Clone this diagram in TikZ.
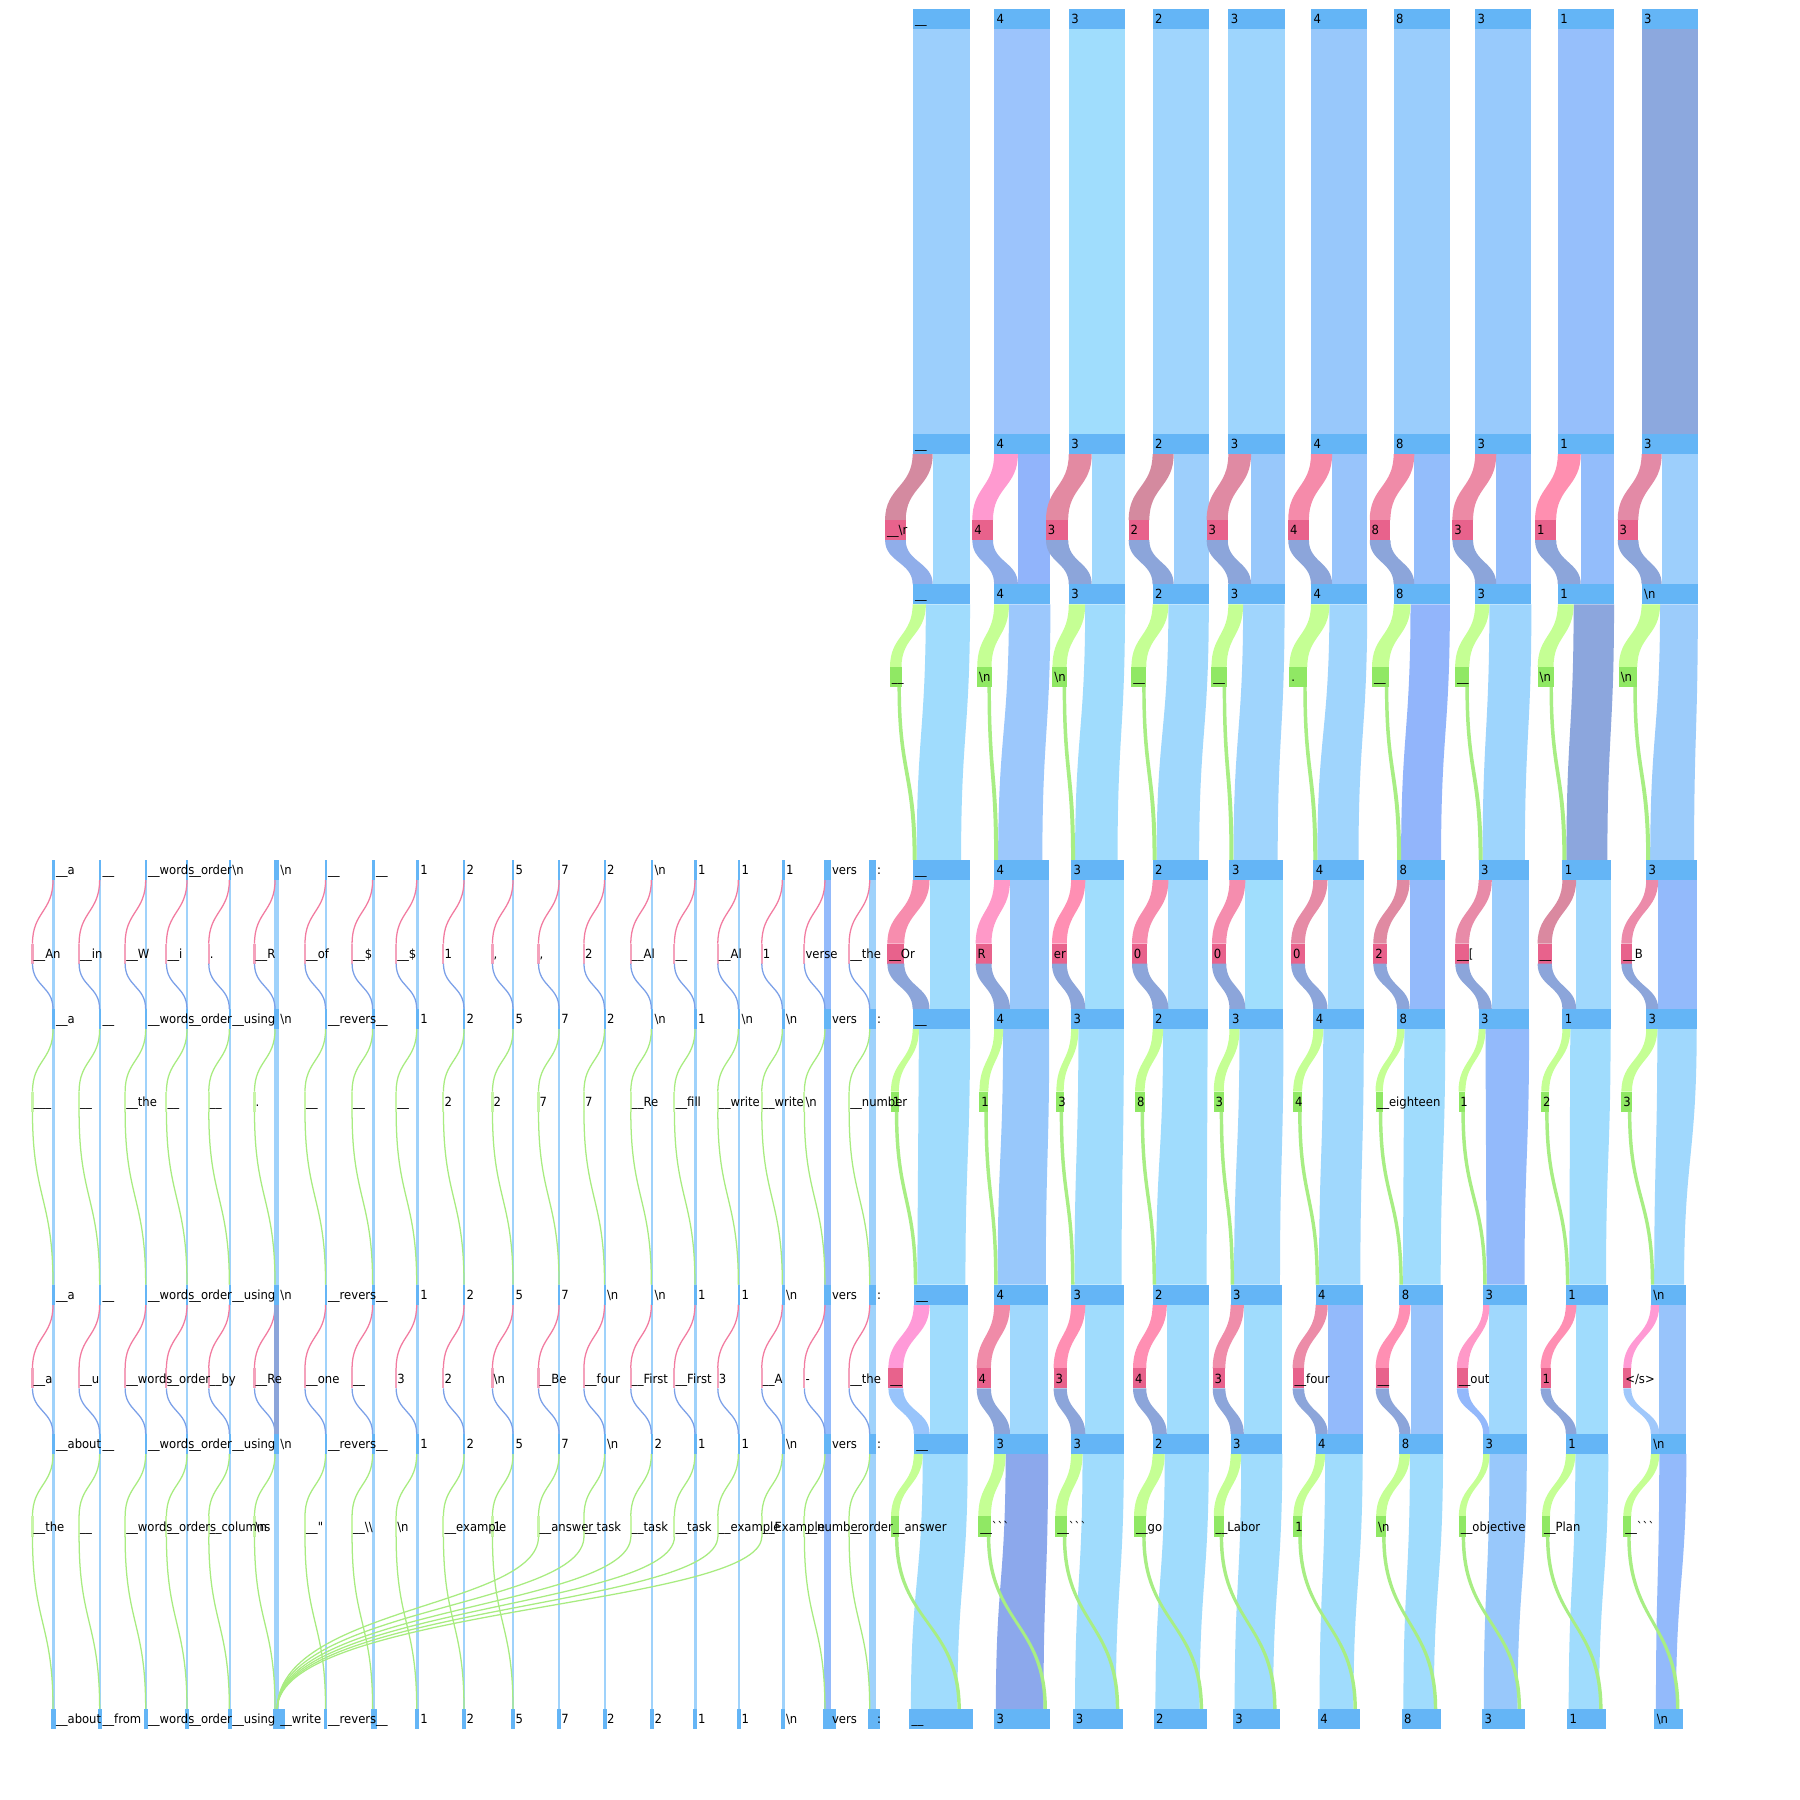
\documentclass[tikz,border=0pt]{standalone}
\usepackage{fontspec}
\newfontfamily\labfont{DejaVu Sans}[FakeStretch=0.92]
\newcommand\U{\_\_}
\newcommand\N{\textbackslash n}
\newcommand\BT{\char"60\relax}
\definecolor{hb}{HTML}{64B5F6}
\definecolor{pk}{HTML}{E8628C}
\definecolor{gbx}{HTML}{90E864}
\definecolor{gband}{HTML}{C5FF94}
\definecolor{gline}{HTML}{A8EE84}
\definecolor{lres}{HTML}{9FD2FB}
\definecolor{lres2}{HTML}{93BAFB}
\definecolor{lres3}{HTML}{8CA5DA}
\definecolor{lpink}{HTML}{F27BA0}
\definecolor{lpbox}{HTML}{F4A2BC}
\definecolor{lblue}{HTML}{7BA0E8}
\definecolor{lgreen}{HTML}{A8EC80}
\definecolor{lgbox}{HTML}{C8F5A8}
\def\xAL{{795,866,931,1004,1070,1142,1214,1285,1357,1430}}
\def\xAR{{845,915,980,1053,1119,1191,1263,1334,1406,1479}}
\def\xBL{{795,866,933,1004,1071,1144,1217,1288,1361,1434}}
\def\xBR{{845,914,979,1052,1118,1188,1259,1332,1403,1478}}
\def\xCL{{796,866,933,1004,1072,1146,1219,1292,1364,1438}}
\def\xCR{{843,913,979,1053,1117,1187,1257,1330,1401,1469}}
\def\xDL{{792,866,935,1005,1074,1148,1221,1291,1365,1441}}
\def\xDR{{848,915,978,1051,1115,1185,1255,1328,1399,1466}}
\def\xLX{{45.6,86.2,126.3,162.3,199.2,239,283,324,362.4,403.6,446.3,486.4,526,566.8,604.8,642.6,680.9,718,757}}
\def\xLW{{2,2,1.5,1.5,2,4,1.6,2.4,2.6,1.7,1.7,1.5,1.6,2.2,2.1,2.3,2.6,5.6,5.8}}
\def\xLB{{4,3.5,3.5,3.5,3.5,10,3,5,4,3.5,3.5,3.5,3.5,3.5,3.5,3.5,3.5,11,11}}
\def\pass{1}
% filled ribbon: colour, a1, a2, y1, b1, b2, y2
\newcommand\band[7]{%
  \pgfmathsetmacro\ymid{(#4+#7)/2}%
  \fill[#1] (#2,#4) .. controls (#2,\ymid) and (#5,\ymid) .. (#5,#7) -- (#6,#7) .. controls (#6,\ymid) and (#3,\ymid) .. (#3,#4) -- cycle;}
\newcommand\hdrrow[5]{%
  \foreach \lb [count=\k from 0] in {#5}{%
    \pgfmathsetmacro\xl{#1[\k]}\pgfmathsetmacro\xr{#2[\k]}%
    \ifnum\pass=2 \fill[hb] (\xl,#3) rectangle (\xr,#3+17.5);\fi
    \ifnum\pass=3 \node[lab] (#4\k) at (\xl+2,#3+12.75) {\lb};\fi
  }}
\newcommand\rpink[8]{%
  \foreach \k/\w/\bw/\off/\pc/\rc/\cA/\lb in {#8}{%
    \pgfmathsetmacro\xl{#1[\k]}\pgfmathsetmacro\xr{#2[\k]}\pgfmathsetmacro\xb{#3[\k]}%
    \pgfmathsetmacro\bx{\xl-\off-\bw}%
    \ifnum\pass=1
    \edef\tmp{\noexpand\definecolor{cP}{HTML}{\pc}\noexpand\definecolor{cR}{HTML}{\rc}\noexpand\definecolor{cS}{HTML}{\cA}}\tmp
    \fill[cS] (\xl+\w,#4) rectangle (\xr,#6);
    \band{cP}{\xl}{\xl+\w}{#4}{\bx}{\bx+\bw}{#5}
    \fill[pk] (\bx,#5) rectangle (\bx+\bw,#5+17.5);
    \band{cR}{\bx}{\bx+\bw}{#5+17.5}{\xb}{\xb+\w}{#6}
    \fi
    \ifnum\pass=3 \node[lab] (#7\k) at (\bx+1.5,#5+12.75) {\lb};\fi
  }}
\newcommand\rgreenL[9]{%
  \foreach \k/\w/\bw/\off/\gap/\cA/\lb in {#9}{%
    \pgfmathsetmacro\xl{#1[\k]}\pgfmathsetmacro\xr{#2[\k]}%
    \pgfmathsetmacro\xb{#3[\k]}\pgfmathsetmacro\xbr{#4[\k]}%
    \pgfmathsetmacro\bx{\xl-\off-\bw}%
    \ifnum\pass=1
    \edef\tmp{\noexpand\definecolor{cS}{HTML}{\cA}}\tmp
    \band{cS}{\xl+\w}{\xr}{#5}{\xb+\lwid}{\xbr-\gap}{#7}
    \band{gband}{\xl}{\xl+\w}{#5}{\bx}{\bx+\bw}{#6}
    \fill[gbx] (\bx,#6) rectangle (\bx+\bw,#6+17.5);
    \band{gline}{\bx+\bw-3.5}{\bx+\bw-0.5}{#6+17.5}{\xb}{\xb+\lwid}{#7}
    \fi
    \ifnum\pass=3 \node[lab] (#8\k) at (\bx+1.5,#6+12.75) {\lb};\fi
  }}
\newcommand\rgreenR[9]{%
  \foreach \k/\w/\bw/\off/\cA/\lb in {#9}{%
    \pgfmathsetmacro\xl{#1[\k]}\pgfmathsetmacro\xr{#2[\k]}%
    \pgfmathsetmacro\xb{#3[\k]}\pgfmathsetmacro\xbr{#4[\k]}%
    \pgfmathsetmacro\bx{\xl-\off-\bw}%
    \pgfmathsetmacro\rg{\k==0 ? 14 : 6}%
    \ifnum\pass=1
    \edef\tmp{\noexpand\definecolor{cS}{HTML}{\cA}}\tmp
    \band{cS}{\xl+\w}{\xr}{#5}{\xb+1.5}{\xbr-\rg}{#7}
    \band{gband}{\xl}{\xl+\w}{#5}{\bx}{\bx+\bw}{#6}
    \fill[gbx] (\bx,#6) rectangle (\bx+\bw,#6+17.5);
    \band{gline}{\bx+\bw-3.5}{\bx+\bw-0.5}{#6+17.5}{\xbr-\rg}{\xbr-\rg+3}{#7}
    \fi
    \ifnum\pass=3 \node[lab] (#8\k) at (\bx+1.5,#6+12.75) {\lb};\fi
  }}
\newcommand\lrow[4]{%
  \ifnum\pass=3
  \foreach \lb [count=\k from 0] in {#4}{%
    \pgfmathsetmacro\xx{#2==0 ? \xLX[\k]+\xLW[\k]+1 : \xLX[\k]-16.5}%
    \node[lab] (#3\k) at (\xx,#1+12.75) {\lb};
  }\fi}
\newcommand\drawall{%
% ---------- right part ----------
\ifnum\pass=1
\foreach \k/\cA in {0/9CCFFC,1/9CC4FC,2/A0DDFD,3/A0D5FD,4/9ED5FD,5/98C8FB,6/9ACDFC,7/98CAFC,8/96BFFB,9/8CA8DE}{%
  \pgfmathsetmacro\xl{\xAL[\k]}\pgfmathsetmacro\xr{\xAR[\k]}%
  \edef\tmp{\noexpand\definecolor{cS}{HTML}{\cA}}\tmp
  \fill[cS] (\xl,25.5) rectangle (\xr,378);
}\fi
\hdrrow{\xAL}{\xAR}{8}{hA}{{\U},4,3,2,3,4,8,3,1,3}
\hdrrow{\xAL}{\xAR}{378}{hB}{{\U},4,3,2,3,4,8,3,1,3}
\hdrrow{\xAL}{\xAR}{509}{hC}{{\U},4,3,2,3,4,8,3,1,{\N}}
\hdrrow{\xBL}{\xBR}{749}{hD}{{\U},4,3,2,3,4,8,3,1,3}
\hdrrow{\xBL}{\xBR}{879}{hE}{{\U},4,3,2,3,4,8,3,1,3}
\hdrrow{\xCL}{\xCR}{1119}{hF}{{\U},4,3,2,3,4,8,3,1,{\N}}
\hdrrow{\xCL}{\xCR}{1249}{hG}{{\U},3,3,2,3,4,8,3,1,{\N}}
\hdrrow{\xDL}{\xDR}{1489}{hH}{{\U},3,3,2,3,4,8,3,1,{\N}}
\rpink{\xAL}{\xAR}{\xAL}{395.5}{453}{509}{pA}{%
0/17.5/18/6/D48AA0/90AEEA/A0D8FD/{\U\textbackslash r},
1/20.7/18/1/FF9AD0/8FAEEA/91B4FB/4,
2/20/19.3/0.5/E38AA2/8CA5DA/A0D8FD/3,
3/18.4/18/2.8/D48A9F/8CA5DA/9DCFFC/2,
4/19.8/18.4/0.5/E08AA3/8CA5DA/98C8FB/3,
5/18.4/18/1.8/F58BAA/8CA5DA/98C4FB/4,
6/18/18/2.8/F08BA8/8CA5DA/93BDFB/8,
7/18.4/18/1.8/EC8AA5/8CA5DA/93BDFB/3,
8/20/18.4/1.4/FF8FB0/8CA5DA/93BDFB/1,
9/17.5/18/2.8/E38AA6/8CA5DA/9DCFFC/3}%
\def\lwid{3.5}%
\rgreenL{\xAL}{\xAR}{\xBL}{\xBR}{526.5}{581}{749}{gA}{%
0/11.5/10/9.7/7.8/A0DCFD/{\U},
1/12.9/12.4/2.3/6/9CC8FC/{\N},
2/14.3/12.4/1.8/5.5/A0DCFD/{\N},
3/13.8/12.9/5.5/7.4/A0D8FD/{\U},
4/12.9/13.3/1.4/5/A0D5FD/{\U},
5/16.1/15.6/3.2/4.6/A0D5FD/{.},
6/14.7/14.7/4.1/3.7/92B5FB/{\U},
7/12.4/12.4/5/3.7/9ED5FD/{\U},
8/13.8/13.8/3.7/2.8/8CA6DD/{\N},
9/16.1/16.1/3.7/2.3/9CCCFB/{\N}}%
\rpink{\xBL}{\xBR}{\xBL}{766.5}{822}{879}{pB}{%
0/14.7/14.7/7.3/F78DAE/8CA5DA/A0DCFD/{\U Or},
1/13.8/13.8/2.3/FF99C8/8CA5DA/98C8FB/R,
2/12.4/12.9/3.7/FF8FB3/8CA5DA/A0DDFD/er,
3/13.8/13.3/4.6/F78DAE/8CA5DA/A0D8FD/0,
4/13.8/12.4/2.8/F58DAE/8CA5DA/A0DEFD/0,
5/12.4/12/7.3/E68BA6/8CA5DA/A0D8FD/0,
6/11/11.5/9.2/E08AA2/8CA5DA/93BAFB/2,
7/11.5/12/8.3/E88BA8/8CA5DA/9ACDFC/{\U[},
8/12/12.4/9.2/DA89A0/8CA5DA/A0D8FD/{\U},
9/10.5/9.2/12.4/EC8BAA/8CA5DA/93BAFB/{\U B}}%
\def\lwid{3}%
\rgreenL{\xBL}{\xBR}{\xCL}{\xCR}{896.5}{951}{1119}{gB}{%
0/5.5/6.9/12/2/A0DCFD/1,
1/7.8/7.8/5/2/98C8FB/1,
2/6.4/6.4/6.4/2/A0DCFD/3,
3/9.2/8.3/6.9/2/A0DCFD/8,
4/8.7/8.7/5/2/A0D8FD/3,
5/8.7/7.8/9.7/2/A0D8FD/4,
6/6.4/6.4/12.4/2/A0DCFD/{\U eighteen},
7/6/6/11.5/2/93BAFB/1,
8/6.9/6.9/11.5/2/A0DCFD/2,
9/9.7/9.2/12.4/2/A0D8FD/3}%
\rpink{\xCL}{\xCR}{\xCL}{1136.5}{1192}{1249}{pC}{%
0/13.8/12.9/9.2/FF9AD8/98C4FB/A0DCFD/{\U},
1/13.8/12.4/2.8/F08BA8/8CA5DA/A0D8FD/4,
2/12.4/11.5/3.7/FF8FB3/8CA5DA/A0DCFD/3,
3/12.4/11.5/5.5/FF8FB3/8CA5DA/A0DCFD/4,
4/11.5/11/4.6/F08DAA/8CA5DA/A0DCFD/3,
5/10.6/10/10/EC8CA8/8CA5DA/93BAFB/{\U four},
6/9.7/11.5/9.2/FF8FB3/8CA5DA/98C4FB/{\U},
7/5.5/10/12.9/FF99C8/93B8FB/A0D8FD/{\U out},
8/9.2/8.7/13.3/FF8FB3/8CA5DA/A0DCFD/1,
9/7.4/6.9/17/FF9AD4/A0C8FB/98C4FB/{\textless/s\textgreater}}%
\rgreenR{\xCL}{\xCR}{\xDL}{\xDR}{1266.5}{1321}{1489}{gC}{%
0/7.8/6.9/12.9/A0DCFD/{\U answer},
1/10/11/2.8/8CA8EC/{\U\BT\BT\BT},
2/10/10/3.7/A0DCFD/{\U\BT\BT\BT},
3/10.6/10.6/5.5/A0DCFD/{\U go},
4/9.2/8.7/6/A0DCFD/{\U Labor},
5/8.3/7.8/11.5/A0DCFD/1,
6/9.2/8.7/11.5/A0DCFD/{\N},
7/5.5/6/15.2/98C8FB/{\U objective},
8/8.3/6.9/13.8/A0DCFD/{\U Plan},
9/7.4/6.9/17/93BAFB/{\U\BT\BT\BT}}%
% ---------- left part ----------
\ifnum\pass<3
\foreach \k in {0,...,18}{%
  \pgfmathsetmacro\x{\xLX[\k]}\pgfmathsetmacro\wd{\xLW[\k]}\pgfmathsetmacro\wb{\xLB[\k]}%
  \pgfmathsetmacro\xc{\x+0.6}\pgfmathsetmacro\xp{\x-17.3}%
  \pgfmathsetmacro\tx{and(\k>10,\k<17) ? 241.5 : \xc}%
  \pgfmathsetmacro\cy{and(\k>10,\k<17) ? 1400 : 1413.75}%
  \def\rcol{lres}\ifnum\k=17 \def\rcol{lres2}\fi
  \ifnum\pass=1
  \fill[fill=\rcol] (\x,766.5) rectangle (\x+\wd,879);
  \fill[fill=\rcol] (\x,896.5) rectangle (\x+\wd,1119);
  \fill[fill=\rcol] (\x,1136.5) rectangle (\x+\wd,1249);
  \fill[fill=\rcol] (\x,1266.5) rectangle (\x+\wd,1489);
  \draw[lpk] (\xc,766.5) .. controls (\xc,794.25) and (\xp,794.25) .. (\xp,822);
  \fill[lpbox] (\xp-0.9,822) rectangle (\xp+0.9,839.5);
  \draw[lbl] (\xp,839.5) .. controls (\xp,859.25) and (\xc,859.25) .. (\xc,879);
  \draw[lgn] (\xc,896.5) .. controls (\xc,923.75) and (\xp,923.75) .. (\xp,951);
  \fill[lgbox] (\xp-0.9,951) rectangle (\xp+0.9,968.5);
  \draw[lgn] (\xp,968.5) .. controls (\xp,1043.75) and (\xc,1043.75) .. (\xc,1119);
  \draw[lpk] (\xc,1136.5) .. controls (\xc,1164.25) and (\xp,1164.25) .. (\xp,1192);
  \fill[lpbox] (\xp-0.9,1192) rectangle (\xp+0.9,1209.5);
  \draw[lbl] (\xp,1209.5) .. controls (\xp,1229.25) and (\xc,1229.25) .. (\xc,1249);
  \draw[lgn] (\xc,1266.5) .. controls (\xc,1293.75) and (\xp,1293.75) .. (\xp,1321);
  \fill[lgbox] (\xp-0.9,1321) rectangle (\xp+0.9,1338.5);
  \draw[lgn] (\xp,1338.5) .. controls (\xp,\cy) and (\tx,\cy) .. (\tx,1489);
  \fi
  \ifnum\pass=2
    \foreach \yy in {749,879,1119,1249}{\fill[hb] (\x,\yy) rectangle (\x+\wd,\yy+17.5);}
    \fill[hb] (\x-1,1489) rectangle (\x-1+\wb,1506.5);
  \fi
}\fi
\ifnum\pass=1 \fill[lres3] (239,1136.5) rectangle (243,1249);\fi
\lrow{749}{0}{lA}{{\U a},{\U},{\U words},{\U order},{\N},{\N},{\U},{\U},1,2,5,7,2,{\N},1,1,1,vers,{:}}%
\lrow{822}{1}{lB}{{\U An},{\U in},{\U W},{\U i},{.},{\U R},{\U of},{\U\$},{\U\$},1,{,},{,},2,{\U Al},{\U},{\U Al},1,verse,{\U the}}%
\lrow{879}{0}{lC}{{\U a},{\U},{\U words},{\U order},{\U using},{\N},{\U revers},{\U},1,2,5,7,2,{\N},1,{\N},{\N},vers,{:}}%
\lrow{951}{1}{lD}{{\_\_\_},{\U},{\U the},{\U},{\U},{.},{\U},{\U},{\U},2,2,7,7,{\U Re},{\U fill},{\U write},{\U write},{\N},{\U number}}%
\lrow{1119}{0}{lE}{{\U a},{\U},{\U words},{\U order},{\U using},{\N},{\U revers},{\U},1,2,5,7,{\N},{\N},1,1,{\N},vers,{:}}%
\lrow{1192}{1}{lF}{{\U a},{\U u},{\U words},{\U order},{\U by},{\U Re},{\U one},{\U},3,2,{\N},{\U Be},{\U four},{\U First},{\U First},3,{\U A},{-},{\U the}}%
\lrow{1249}{0}{lG}{{\U about},{\U},{\U words},{\U order},{\U using},{\N},{\U revers},{\U},1,2,5,7,{\N},2,1,1,{\N},vers,{:}}%
\lrow{1321}{1}{lH}{{\U the},{\U},{\U words},{\U orders},{\U columns},{\N},{\U"},{\U\textbackslash\textbackslash},{\N},{\U example},1,{\U answer},{\U task},{\U task},{\U task},{\U example},{\U Example},{\U number},{\U order}}%
\lrow{1489}{0}{lI}{{\U about},{\U from},{\U words},{\U order},{\U using},{\U write},{\U revers},{\U},1,2,5,7,2,2,1,1,{\N},vers,{:}}%
}
\begin{document}
\begin{tikzpicture}[x=1pt,y=-1pt,
  lab/.style={font=\labfont\fontsize{11}{13}\selectfont, inner sep=0pt, anchor=base west},
  lpk/.style={draw=lpink, line width=1.1pt},
  lbl/.style={draw=lblue, line width=1.1pt},
  lgn/.style={draw=lgreen, line width=1.1pt}]
\useasboundingbox (0,0) rectangle (1568,1568);
\fill[white] (0,0) rectangle (1568,1568);
\def\pass{1}\drawall
\def\pass{2}\drawall
\def\pass{3}\drawall
\end{tikzpicture}
\end{document}
